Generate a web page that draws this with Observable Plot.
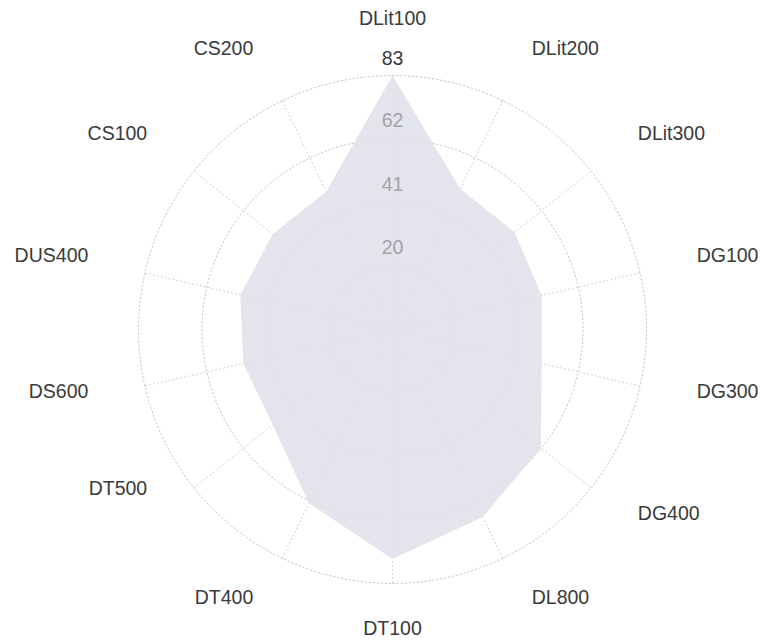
<!DOCTYPE html>
<html>
<head>
<meta charset="utf-8">
<script src="https://cdn.jsdelivr.net/npm/d3@7"></script>
<script src="https://cdn.jsdelivr.net/npm/@observablehq/plot@0.6"></script>
<style>
  html, body { margin: 0; padding: 0; background: #fff; }
  #chart svg { display: block; }
</style>
</head>
<body>
<div id="chart"></div>
<script>
// ---- data ----
const categories = ["DLit100","DLit200","DLit300","DG100","DG300","DG400","DL800","DT100","DT400","DT500","DS600","DUS400","CS100","CS200"];
const values = [83, 51, 51, 50, 50, 62, 68, 75, 63, 50, 50, 51, 50, 50];
const ringValues = [20.75, 41.5, 62.25, 83];
const ringLabels = ["20", "41", "62", "83"];
const maxValue = 83;

// ---- polar helpers ----
const n = categories.length;
const angleOf = i => (i * 2 * Math.PI) / n;          // clockwise from top
const px = (r, a) => r * Math.sin(a);
const py = (r, a) => r * Math.cos(a);

// page geometry
const W = 763, H = 640, cx = 392, cy = 329, outerPx = 254;
const k = outerPx / maxValue;                          // px per value unit

// polygon
const poly = values.map((v, i) => ({x: px(v, angleOf(i)), y: py(v, angleOf(i))}));

// rings
const rings = [];
ringValues.forEach(rv => {
  for (let j = 0; j <= 180; j++) {
    const a = (j / 180) * 2 * Math.PI;
    rings.push({ring: rv, x: px(rv, a), y: py(rv, a)});
  }
});

// spokes
const spokes = categories.map((c, i) => ({
  xa: 0, ya: 0, xb: px(maxValue, angleOf(i)), yb: py(maxValue, angleOf(i))
}));

// category labels
const labelR = maxValue * 1.2;
const labels = categories.map((c, i) => {
  const a = angleOf(i);
  const s = Math.sin(a);
  return {name: c, x: px(labelR, a), y: py(labelR, a), side: s > 0.01 ? "right" : s < -0.01 ? "left" : "mid"};
});

// tick labels along the top spoke
const ticks = ringValues.map((rv, i) => ({label: ringLabels[i], x: 0, y: rv, outer: rv === maxValue}));

const font = "'Liberation Sans', Arial, sans-serif";
const labelColor = "#3a3a3a";
const fs = 19.5;
const gridColor = "#c6c6c6";

const chart = Plot.plot({
  width: W,
  height: H,
  margin: 0,
  style: {fontFamily: font, background: "#fff"},
  x: {domain: [-cx / k, (W - cx) / k], axis: null},
  y: {domain: [-(H - cy) / k, cy / k], axis: null},
  marks: [
    Plot.line(rings, {x: "x", y: "y", z: "ring", stroke: gridColor, strokeWidth: 1, strokeDasharray: "1.5,2.5"}),
    Plot.link(spokes, {x1: "xa", y1: "ya", x2: "xb", y2: "yb", stroke: gridColor, strokeWidth: 1, strokeDasharray: "1.5,2.5"}),
    Plot.line(poly, {x: "x", y: "y", fill: "#e0e0e9", fillOpacity: 0.88, stroke: "none", curve: "linear-closed"}),
    Plot.text(ticks.filter(d => !d.outer), {x: "x", y: "y", text: "label", dy: -18, fill: "#a2a2a8", fontSize: fs}),
    Plot.text(ticks.filter(d => d.outer), {x: "x", y: "y", text: "label", dy: -17, fill: labelColor, fontSize: fs}),
    Plot.text(labels.filter(d => d.side === "right"), {x: "x", y: "y", text: "name", textAnchor: "start", dx: 7, dy: -6, fill: labelColor, fontSize: fs}),
    Plot.text(labels.filter(d => d.side === "left" && d.name !== "DT500"), {x: "x", y: "y", text: "name", textAnchor: "end", dx: -7, dy: -6, fill: labelColor, fontSize: fs}),
    Plot.text(labels.filter(d => d.name === "DT500"), {x: "x", y: "y", text: "name", textAnchor: "end", dx: -7, dy: -31, fill: labelColor, fontSize: fs}),
    Plot.text(labels.filter(d => d.side === "mid"), {x: "x", y: "y", text: "name", textAnchor: "middle", dy: -6, fill: labelColor, fontSize: fs})
  ]
});

document.getElementById("chart").appendChild(chart);
</script>
</body>
</html>
